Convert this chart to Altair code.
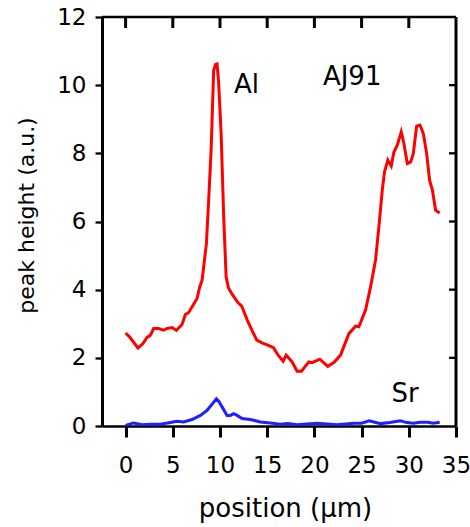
import altair as alt
import pandas as pd

# Al (red) profile
al_x = [0.00, 0.43, 1.31, 1.84, 2.27, 2.62, 2.97, 3.50, 4.03, 4.39, 4.92, 5.38, 5.98, 6.33, 6.68,
        7.14, 7.57, 7.85, 8.10, 8.27, 8.56, 8.80, 9.06, 9.33, 9.52, 9.69, 9.86, 10.12, 10.39, 10.65,
        10.90, 11.30, 11.90, 12.30, 12.90, 13.40, 13.90, 14.46, 15.00, 15.66, 16.16, 16.69, 17.01,
        17.64, 18.17, 18.63, 19.41, 19.76, 20.57, 21.42, 22.06, 22.77, 23.65, 24.36, 24.71, 25.42,
        25.95, 26.48, 26.83, 27.19, 27.43, 27.78, 28.14, 28.42, 28.78, 29.20, 29.48, 29.84, 30.20,
        30.48, 30.83, 31.18, 31.54, 31.89, 32.20, 32.50, 32.84, 33.27]
al_y = [2.73, 2.61, 2.29, 2.42, 2.60, 2.66, 2.86, 2.86, 2.81, 2.86, 2.89, 2.81, 2.98, 3.27, 3.33,
        3.54, 3.74, 4.08, 4.28, 4.67, 5.35, 6.63, 8.10, 10.44, 10.60, 10.62, 10.05, 8.58, 6.14, 4.37,
        4.05, 3.86, 3.62, 3.52, 3.10, 2.80, 2.52, 2.44, 2.38, 2.30, 2.08, 1.90, 2.08,
        1.88, 1.61, 1.61, 1.88, 1.86, 1.96, 1.75, 1.86, 2.08, 2.71, 2.93, 2.91, 3.40,
        4.08, 4.88, 5.84, 6.92, 7.46, 7.80, 7.63, 8.04, 8.24, 8.63, 8.29, 7.70, 7.75,
        8.00, 8.80, 8.83, 8.58, 8.00, 7.21, 6.92, 6.33, 6.25]

# Sr (blue) profile
sr_x = [0.00, 0.85, 1.74, 2.70, 3.68, 4.74, 5.45, 6.15, 7.04, 7.92, 8.63, 9.16, 9.62, 9.86, 10.33,
        10.75, 11.10, 11.45, 11.81, 12.34, 13.22, 14.28, 15.34, 16.40, 17.20, 18.17, 19.20, 20.30,
        21.30, 22.40, 23.30, 24.20, 25.00, 25.80, 26.40, 27.00, 28.00, 29.10, 29.80, 30.50, 31.20,
        32.00, 32.60, 33.27]
sr_y = [0.02, 0.09, 0.04, 0.05, 0.05, 0.10, 0.14, 0.12, 0.19, 0.31, 0.46, 0.64, 0.80, 0.73, 0.51,
        0.31, 0.31, 0.36, 0.31, 0.22, 0.19, 0.12, 0.09, 0.05, 0.07, 0.04, 0.06, 0.08,
        0.06, 0.04, 0.06, 0.08, 0.08, 0.15, 0.11, 0.07, 0.10, 0.15, 0.10, 0.08, 0.11,
        0.11, 0.08, 0.11]

label_text = ["Al", "AJ91", "Sr"]
label_x = [12.8, 24.0, 29.6]
label_y = [9.77, 10.0, 0.71]

x_ticks = [0, 5, 10, 15, 20, 25, 30, 35]
y_ticks = [0, 2, 4, 6, 8, 10, 12]
top_ticks = [0, 5, 10, 15, 20, 25, 30]
right_ticks = [2, 4, 6, 8, 10]

X_MIN, X_MAX = -2.5, 35
Y_MIN, Y_MAX = 0, 12
FONT = "DejaVu Sans"

xs = alt.Scale(domain=[X_MIN, X_MAX], nice=False, zero=False)
ys = alt.Scale(domain=[Y_MIN, Y_MAX], nice=False, zero=False)

al_df = pd.DataFrame({"x": al_x, "y": al_y})
sr_df = pd.DataFrame({"x": sr_x, "y": sr_y})
lab_df = pd.DataFrame({"x": label_x, "y": label_y, "t": label_text})

x_axis = alt.Axis(values=x_ticks, title="position (μm)", grid=False,
                  tickSize=11, tickWidth=3, tickColor="black",
                  domainWidth=2.3, domainColor="black",
                  labelFont=FONT, labelFontSize=23, labelColor="black", labelPadding=17,
                  labelFlush=False, labelOverlap=False,
                  titleFont=FONT, titleFontSize=26, titleFontWeight="normal", titleColor="black",
                  titleX=183, titleY=90, titleBaseline="alphabetic", titleAnchor="middle")
y_axis = alt.Axis(values=y_ticks, title="peak height (a.u.)", grid=False,
                  tickSize=7, tickWidth=2.3, tickColor="black",
                  domainWidth=3, domainColor="black",
                  labelFont=FONT, labelFontSize=23, labelColor="black", labelPadding=9,
                  labelFlush=False, labelOverlap=False,
                  titleFont=FONT, titleFontSize=22, titleFontWeight="normal", titleColor="black",
                  titleX=-76, titleY=198, titleAngle=-90, titleBaseline="middle", titleAnchor="middle")


def X(field="x"):
    return alt.X(f"{field}:Q", scale=xs, axis=x_axis)


def Y(field="y"):
    return alt.Y(f"{field}:Q", scale=ys, axis=y_axis)


al_line = alt.Chart(al_df).mark_line(color="#ff0000", strokeWidth=3).encode(x=X(), y=Y())
sr_line = alt.Chart(sr_df).mark_line(color="#1f1fff", strokeWidth=3).encode(x=X(), y=Y())

labels = alt.Chart(lab_df).mark_text(font=FONT, fontSize=26, align="center",
                                     baseline="alphabetic", color="black").encode(
    x=X(), y=Y(), text="t:N",
)

# frame: top and right lines
top_df = pd.DataFrame({"x": [X_MIN], "x2": [X_MAX], "y": [Y_MAX]})
top_line = alt.Chart(top_df).mark_rule(color="black", strokeWidth=2.3).encode(
    x=X(), x2="x2:Q", y=Y(),
)
right_df = pd.DataFrame({"x": [X_MAX], "y": [Y_MIN], "y2": [Y_MAX]})
right_line = alt.Chart(right_df).mark_rule(color="black", strokeWidth=3).encode(
    x=X(), y=Y(), y2="y2:Q",
)
# inward ticks on top and right
tt_df = pd.DataFrame({"x": top_ticks})
tt_df["y"] = Y_MAX
tt_df["y2"] = Y_MAX - 11 * (Y_MAX - Y_MIN) / 409
top_tick = alt.Chart(tt_df).mark_rule(color="black", strokeWidth=3).encode(
    x=X(), y=Y(), y2="y2:Q",
)
rt_df = pd.DataFrame({"y": right_ticks})
rt_df["x"] = X_MAX
rt_df["x2"] = X_MAX - 7 * (X_MAX - X_MIN) / 354
right_tick = alt.Chart(rt_df).mark_rule(color="black", strokeWidth=2.3).encode(
    x=X(), x2="x2:Q", y=Y(),
)

chart = alt.layer(al_line, sr_line, labels, top_line, right_line, top_tick, right_tick).properties(
    width=354, height=409,
    autosize=alt.AutoSizeParams(type="none"),
    padding={"left": 102, "top": 17, "right": 14, "bottom": 101},
    background="white",
).configure_view(stroke=None)

chart.save("out.html", embed_options={"renderer": "svg", "actions": False})
